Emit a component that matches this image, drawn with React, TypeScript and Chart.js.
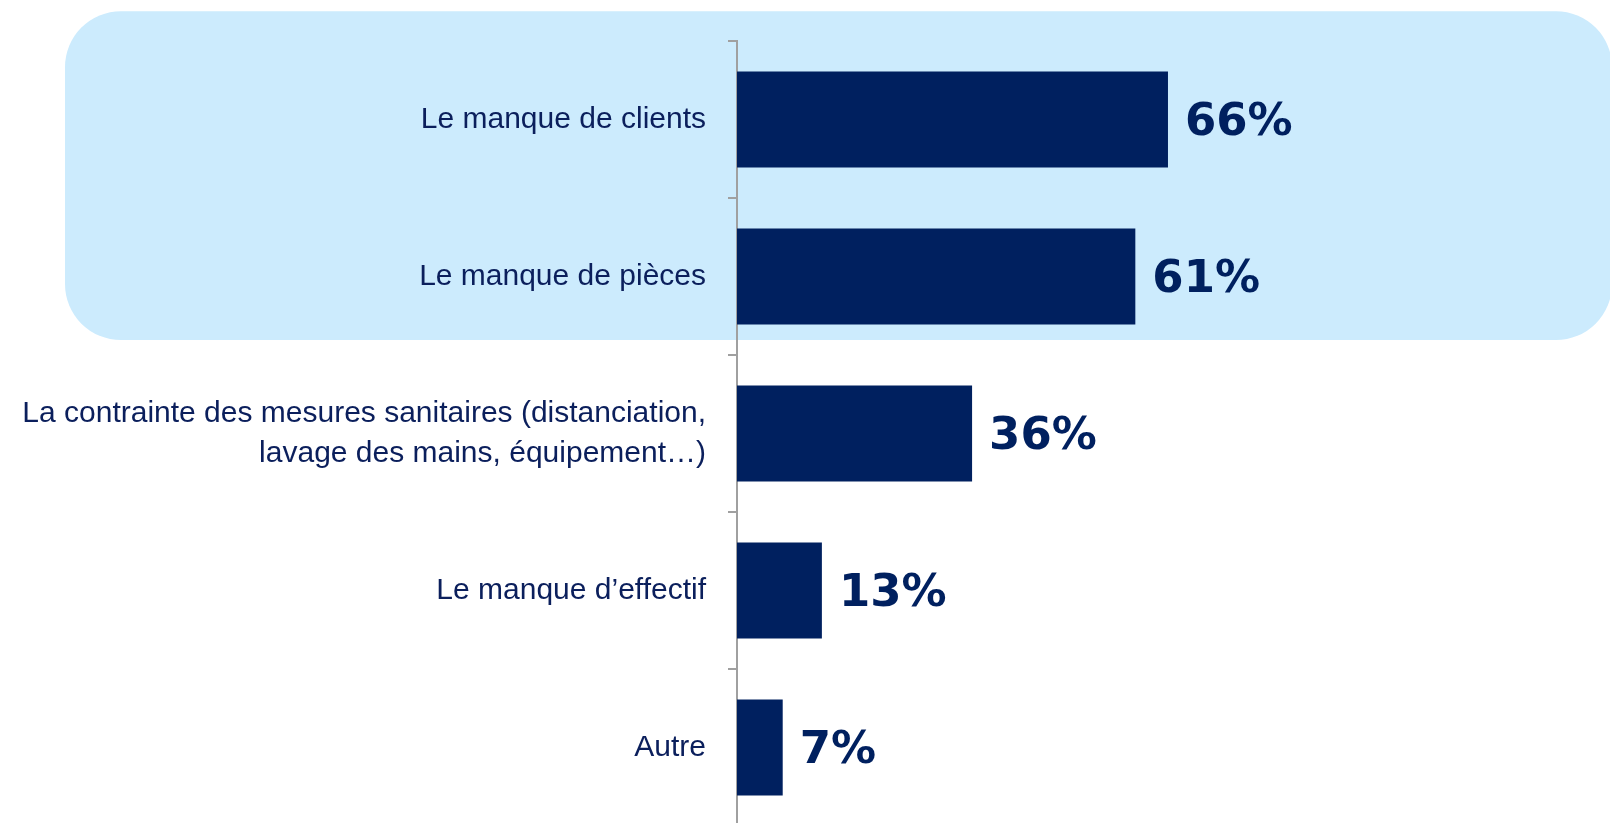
import React, { useEffect, useRef } from "react";
import { Chart, registerables } from "chart.js";

Chart.register(...registerables);

const categories: (string | string[])[] = [
  "Le manque de clients",
  "Le manque de pièces",
  ["La contrainte des mesures sanitaires (distanciation,", "lavage des mains, équipement…)"],
  "Le manque d’effectif",
  "Autre",
];
const values: number[] = [66, 61, 36, 13, 7];
const valueLabels: string[] = ["66%", "61%", "36%", "13%", "7%"];

const NAVY = "#00205F";
const TEXT = "#0B1F5C";

const highlightPlugin = {
  id: "highlight",
  beforeDraw(chart: any) {
    const ctx = chart.ctx;
    const y = chart.scales.y;
    const p0 = y.getPixelForValue(0);
    const p1 = y.getPixelForValue(1);
    const step = p1 - p0;
    const top = p0 - step / 2 - step * 0.19;
    const bottom = p1 + step / 2 - step * 0.095;
    const left = 65;
    const right = chart.width + 2;
    ctx.save();
    ctx.fillStyle = "#CCEBFD";
    ctx.beginPath();
    (ctx as any).roundRect(left, top, right - left, bottom - top, 56);
    ctx.fill();
    ctx.restore();
  },
};

const valuePlugin = {
  id: "valueLabels",
  afterDatasetsDraw(chart: any) {
    const ctx = chart.ctx;
    const meta = chart.getDatasetMeta(0);
    ctx.save();
    ctx.fillStyle = NAVY;
    ctx.font = "bold 45px 'DejaVu Sans', Verdana, sans-serif";
    ctx.textBaseline = "middle";
    ctx.textAlign = "left";
    meta.data.forEach((bar: any, i: number) => {
      ctx.fillText(valueLabels[i], bar.x + 17, bar.y + 4);
    });
    ctx.restore();
  },
};

export default function App() {
  const ref = useRef<HTMLCanvasElement | null>(null);
  useEffect(() => {
    if (!ref.current) return;
    const chart = new Chart(ref.current, {
      type: "bar",
      data: {
        labels: categories,
        datasets: [
          {
            data: values,
            backgroundColor: NAVY,
            borderWidth: 0,
            categoryPercentage: 1,
            barPercentage: 0.61,
          },
        ],
      },
      options: {
        indexAxis: "y",
        responsive: false,
        animation: false,
        devicePixelRatio: 1,
        layout: { padding: { left: 0, right: 220, top: 41, bottom: 4 } },
        plugins: { legend: { display: false }, tooltip: { enabled: false } },
        scales: {
          x: { display: false, min: 0, max: 100 },
          y: {
            afterFit(scale: any) {
              scale.width = 737;
              scale.paddingTop = 0;
              scale.paddingBottom = 0;
            },
            border: { display: true, color: "#A0A0A0", width: 2 },
            grid: {
              display: true,
              drawOnChartArea: false,
              drawTicks: true,
              tickLength: 9,
              color: "#A0A0A0",
              lineWidth: 2,
              offset: true,
            },
            ticks: {
              color: TEXT,
              padding: 22,
              font: { family: "'Liberation Sans', Arial, sans-serif", size: 30, lineHeight: 1.33 },
            },
          },
        },
      },
      plugins: [highlightPlugin, valuePlugin],
    } as any);
    return () => chart.destroy();
  }, []);
  return (
    <div style={{ position: "fixed", left: 0, top: 0, width: 1610, height: 830, overflow: "hidden", background: "#fff" }}>
      <canvas ref={ref} width={1610} height={830} style={{ display: "block" }} />
    </div>
  );
}
